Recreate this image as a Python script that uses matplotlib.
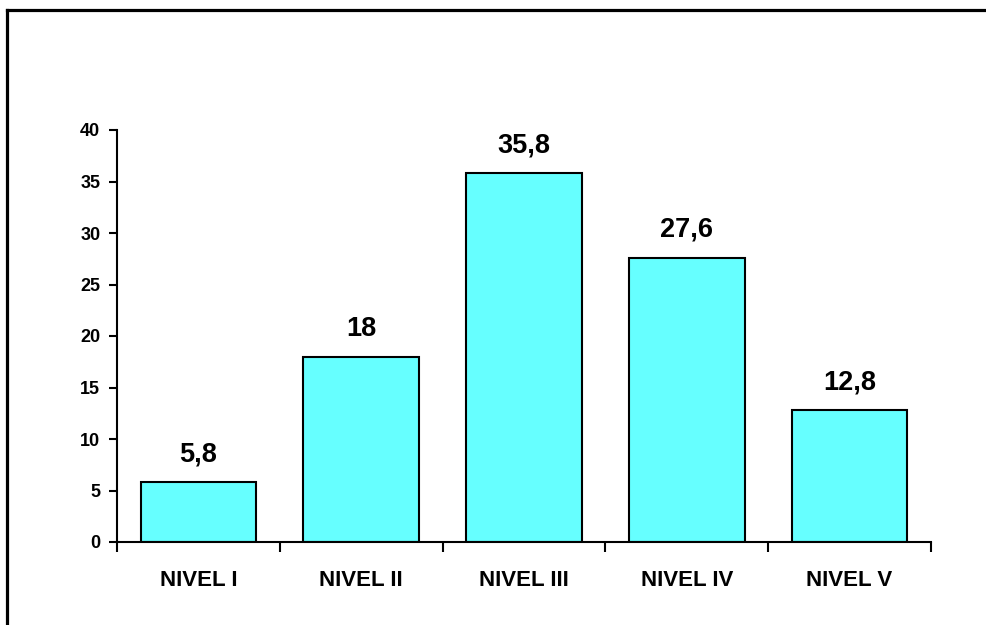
import numpy as np
import matplotlib.pyplot as plt
from matplotlib.lines import Line2D

# datos
niveles = ['NIVEL I', 'NIVEL II', 'NIVEL III', 'NIVEL IV', 'NIVEL V']
valores = [5.8, 18, 35.8, 27.6, 12.8]
etiquetas = ['5,8', '18', '35,8', '27,6', '12,8']
yticks = [0, 5, 10, 15, 20, 25, 30, 35, 40]

plt.rcParams['font.family'] = ['Liberation Sans', 'DejaVu Sans']
plt.rcParams['font.weight'] = 'bold'

W, H = 987, 625
fig = plt.figure(figsize=(W / 100, H / 100), dpi=100)
ax = fig.add_axes([117 / W, 1 - 542 / H, (931 - 117) / W, (542 - 130) / H])

x = np.arange(len(niveles))
ax.bar(x, valores, width=0.71, color='#66FFFF', edgecolor='black', linewidth=1.5)

for xi, v, t in zip(x, valores, etiquetas):
    ax.annotate(t, (xi, v), xytext=(0, 15), textcoords='offset points',
                ha='center', va='baseline', fontsize=19.5, fontweight='bold')

ax.set_xlim(-0.5, len(niveles) - 0.5)
ax.set_ylim(0, 40)
ax.set_yticks(yticks)
ax.set_yticklabels([str(t) for t in yticks], fontsize=13, fontweight='bold')

# categorias en el centro, marcas entre categorias
ax.set_xticks(x)
ax.set_xticklabels(niveles, fontsize=16, fontweight='bold')
ax.tick_params(axis='x', which='major', length=0, pad=20)
ax.set_xticks(np.arange(-0.5, len(niveles)), minor=True)
ax.tick_params(axis='x', which='minor', length=7, width=1.5, direction='out')
ax.tick_params(axis='y', length=6, width=1.5, direction='out', pad=6)

for s in ['top', 'right']:
    ax.spines[s].set_visible(False)
for s in ['left', 'bottom']:
    ax.spines[s].set_linewidth(1.5)

# marco de la figura (solo izquierda y arriba visibles)
fig.add_artist(Line2D([6.5 / W, 6.5 / W], [0, 1 - 9.5 / H], color='black', lw=2.3,
                      transform=fig.transFigure, solid_capstyle='projecting'))
fig.add_artist(Line2D([6.5 / W, 1], [1 - 9.5 / H, 1 - 9.5 / H], color='black', lw=2.3,
                      transform=fig.transFigure, solid_capstyle='projecting'))

fig.savefig('out.png', dpi=100)
